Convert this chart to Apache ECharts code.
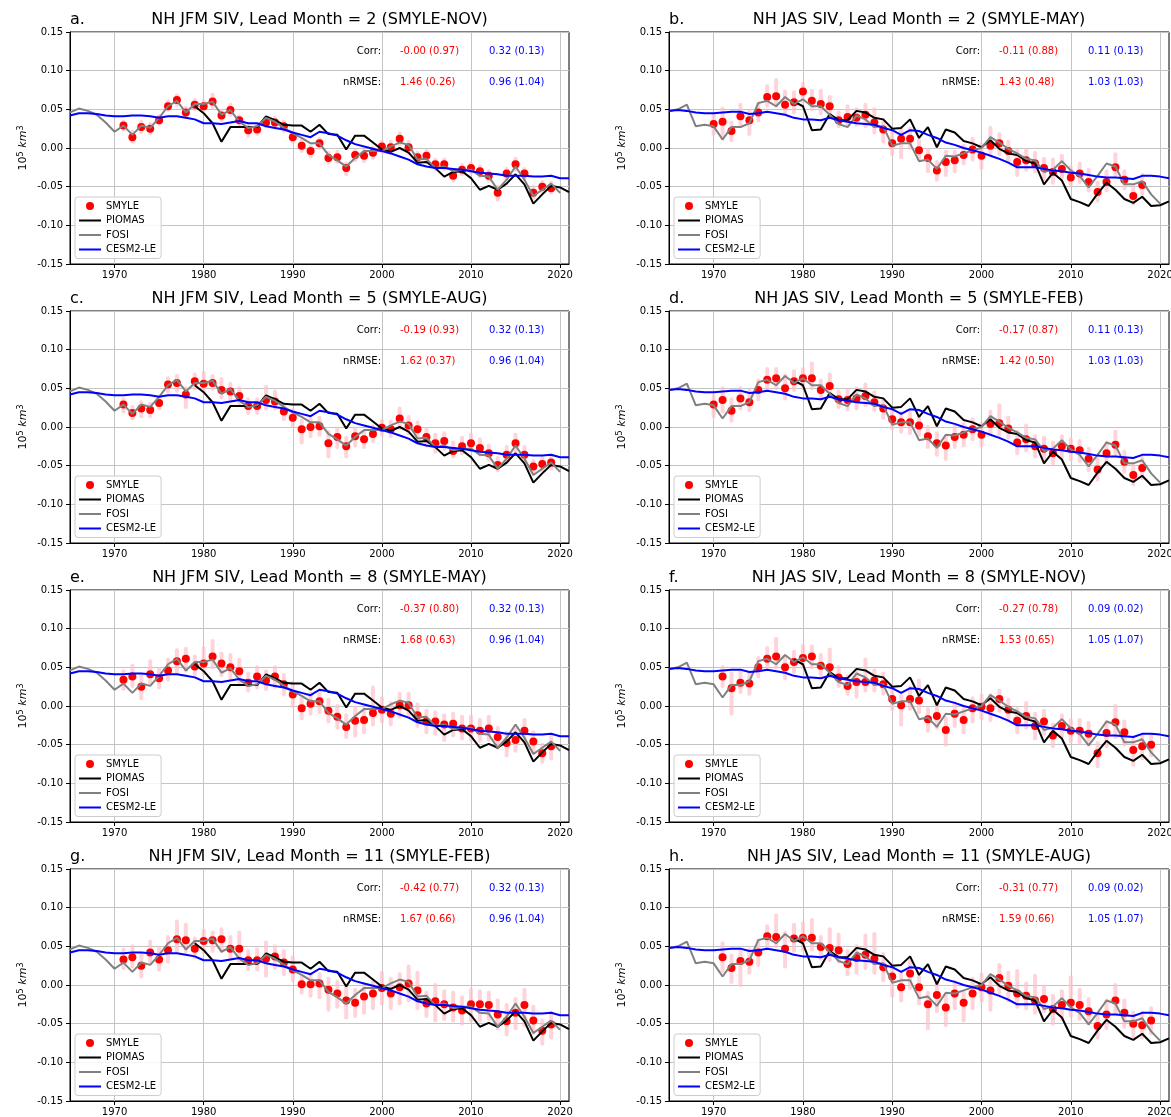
<!DOCTYPE html>
<html>
<head>
<meta charset="utf-8">
<script src="https://cdn.jsdelivr.net/npm/echarts@6/dist/echarts.min.js"></script>
<style>
  html, body { margin: 0; padding: 0; background: #ffffff; }
  #chart { width: 1171px; height: 1117px; }
</style>
</head>
<body>
<div id="chart"></div>
<script>
// ---------------- data ----------------
const xTickYears = [1970, 1980, 1990, 2000, 2010, 2020];
const yTickValues = [-0.15, -0.10, -0.05, 0.00, 0.05, 0.10, 0.15];

const yearsObs = [1965,1966,1967,1968,1969,1970,1971,1972,1973,1974,1975,1976,1977,1978,1979,1980,1981,1982,1983,1984,
  1985,1986,1987,1988,1989,1990,1991,1992,1993,1994,1995,1996,1997,1998,1999,2000,2001,2002,2003,2004,
  2005,2006,2007,2008,2009,2010,2011,2012,2013,2014,2015,2016,2017,2018,2019,2020,2021];
const yearsFosi = [1965,1966,1967,1968,1969,1970,1971,1972,1973,1974,1975,1976,1977,1978,1979,1980,1981,1982,1983,1984,
  1985,1986,1987,1988,1989,1990,1991,1992,1993,1994,1995,1996,1997,1998,1999,2000,2001,2002,2003,2004,
  2005,2006,2007,2008,2009,2010,2011,2012,2013,2014,2015,2016,2017,2018,2019,2020];
const yearsPiomas = [1979,1980,1981,1982,1983,1984,1985,1986,1987,1988,1989,1990,1991,1992,1993,1994,1995,1996,1997,1998,
  1999,2000,2001,2002,2003,2004,2005,2006,2007,2008,2009,2010,2011,2012,2013,2014,2015,2016,2017,2018,
  2019,2020,2021];
const years1970 = [1970,1971,1972,1973,1974,1975,1976,1977,1978,1979,1980,1981,1982,1983,1984,1985,1986,1987,1988,1989,
  1990,1991,1992,1993,1994,1995,1996,1997,1998,1999,2000,2001,2002,2003,2004,2005,2006,2007,2008,2009,
  2010,2011,2012,2013,2014,2015,2016,2017,2018];
const years1971 = [1971,1972,1973,1974,1975,1976,1977,1978,1979,1980,1981,1982,1983,1984,1985,1986,1987,1988,1989,1990,
  1991,1992,1993,1994,1995,1996,1997,1998,1999,2000,2001,2002,2003,2004,2005,2006,2007,2008,2009,2010,
  2011,2012,2013,2014,2015,2016,2017,2018,2019];

// JFM references
const jfmPiomas = [0.054,0.045,0.032,0.008,0.027,0.027,0.027,0.027,0.041,0.036,
  0.030,0.029,0.029,0.021,0.030,0.018,0.017,-0.002,0.016,0.016,
  0.007,-0.002,-0.005,0.000,-0.006,-0.019,-0.018,-0.026,-0.037,-0.031,
  -0.030,-0.039,-0.054,-0.049,-0.054,-0.046,-0.034,-0.047,-0.072,-0.060,
  -0.049,-0.051,-0.057];
const jfmFosi = [0.046,0.051,0.048,0.043,0.033,0.021,0.029,0.017,0.029,0.026,
  0.039,0.054,0.061,0.046,0.057,0.057,0.060,0.043,0.049,0.034,
  0.026,0.028,0.039,0.034,0.026,0.019,0.013,0.006,0.006,-0.009,
  -0.016,-0.024,-0.013,-0.004,-0.004,-0.004,0.002,0.007,0.004,-0.015,
  -0.014,-0.026,-0.024,-0.030,-0.028,-0.028,-0.036,-0.037,-0.054,-0.041,
  -0.024,-0.041,-0.062,-0.054,-0.046,-0.058];
const jfmCesm = [0.042,0.045,0.045,0.044,0.042,0.041,0.041,0.042,0.042,0.041,
  0.039,0.041,0.041,0.039,0.037,0.032,0.032,0.031,0.033,0.035,
  0.032,0.032,0.028,0.026,0.024,0.020,0.017,0.014,0.021,0.019,
  0.016,0.010,0.005,0.002,-0.001,-0.004,-0.007,-0.011,-0.015,-0.021,
  -0.024,-0.026,-0.026,-0.027,-0.028,-0.030,-0.032,-0.033,-0.034,-0.036,
  -0.036,-0.036,-0.037,-0.037,-0.036,-0.039,-0.039];

// JAS references
const jasPiomas = [0.060,0.054,0.023,0.024,0.044,0.036,0.036,0.048,0.046,0.039,
  0.037,0.025,0.026,0.037,0.013,0.027,0.001,0.024,0.020,0.009,
  0.006,0.001,0.010,-0.001,-0.007,-0.009,-0.017,-0.020,-0.047,-0.032,
  -0.042,-0.066,-0.070,-0.075,-0.059,-0.045,-0.054,-0.066,-0.071,-0.063,
  -0.075,-0.074,-0.069];
const jasFosi = [0.048,0.050,0.056,0.028,0.030,0.028,0.011,0.027,0.027,0.032,
  0.058,0.061,0.054,0.066,0.057,0.063,0.054,0.054,0.043,0.031,
  0.027,0.042,0.037,0.027,0.028,0.003,0.006,0.006,-0.017,-0.015,
  -0.027,-0.010,-0.011,-0.007,-0.003,0.000,0.014,0.007,-0.001,-0.007,
  -0.014,-0.016,-0.031,-0.028,-0.017,-0.029,-0.036,-0.051,-0.036,-0.020,
  -0.024,-0.047,-0.047,-0.043,-0.060,-0.072];
const jasCesm = [0.048,0.049,0.048,0.046,0.045,0.045,0.046,0.047,0.047,0.044,
  0.045,0.047,0.045,0.043,0.039,0.037,0.037,0.036,0.039,0.036,
  0.034,0.032,0.031,0.030,0.026,0.023,0.017,0.023,0.022,0.017,
  0.013,0.007,0.004,0.000,-0.003,-0.006,-0.010,-0.014,-0.019,-0.025,
  -0.025,-0.025,-0.027,-0.029,-0.030,-0.032,-0.033,-0.035,-0.037,-0.038,
  -0.038,-0.039,-0.040,-0.036,-0.036,-0.037,-0.039];

// SMYLE ensemble mean and member range, one set per panel
const smyleA = [0.029,0.014,0.027,0.025,0.036,0.054,0.062,0.046,0.056,0.054,
  0.060,0.042,0.049,0.036,0.023,0.024,0.033,0.033,0.028,0.014,
  0.003,-0.004,0.006,-0.013,-0.012,-0.026,-0.009,-0.010,-0.006,0.002,
  0.001,0.012,0.001,-0.012,-0.010,-0.021,-0.021,-0.036,-0.028,-0.026,
  -0.030,-0.036,-0.058,-0.033,-0.021,-0.033,-0.058,-0.050,-0.052];
const memLoA = [0.024,0.008,0.021,0.019,0.031,0.049,0.056,0.040,0.050,0.049,
  0.053,0.036,0.043,0.031,0.016,0.018,0.028,0.027,0.022,0.008,
  -0.004,-0.011,0.000,-0.019,-0.018,-0.034,-0.016,-0.017,-0.013,-0.005,
  -0.005,0.005,-0.006,-0.018,-0.016,-0.027,-0.027,-0.042,-0.034,-0.032,
  -0.037,-0.042,-0.067,-0.040,-0.028,-0.040,-0.064,-0.056,-0.058];
const memHiA = [0.034,0.021,0.034,0.031,0.041,0.060,0.068,0.052,0.062,0.060,
  0.069,0.048,0.056,0.041,0.029,0.030,0.039,0.039,0.034,0.020,
  0.010,0.002,0.012,-0.006,-0.005,-0.020,-0.003,-0.003,0.000,0.008,
  0.008,0.019,0.008,-0.006,-0.004,-0.015,-0.015,-0.030,-0.022,-0.020,
  -0.024,-0.030,-0.050,-0.027,-0.014,-0.027,-0.050,-0.044,-0.045];

const smyleB = [0.031,0.034,0.022,0.041,0.036,0.046,0.066,0.067,0.056,0.059,
  0.073,0.061,0.057,0.054,0.036,0.040,0.039,0.043,0.033,0.024,
  0.006,0.012,0.012,-0.003,-0.013,-0.029,-0.018,-0.016,-0.009,-0.002,
  -0.010,0.003,0.006,-0.004,-0.018,-0.016,-0.020,-0.026,-0.031,-0.027,
  -0.038,-0.033,-0.044,-0.057,-0.044,-0.025,-0.041,-0.062,-0.048];
const memLoB = [0.018,0.012,0.010,0.028,0.018,0.036,0.055,0.055,0.045,0.046,
  0.060,0.050,0.045,0.042,0.028,0.030,0.030,0.028,0.020,0.008,
  -0.008,-0.012,0.000,-0.015,-0.030,-0.041,-0.035,-0.030,-0.020,-0.015,
  -0.026,-0.008,-0.008,-0.016,-0.035,-0.028,-0.030,-0.040,-0.045,-0.038,
  -0.048,-0.044,-0.055,-0.068,-0.055,-0.035,-0.052,-0.072,-0.060];
const memHiB = [0.043,0.051,0.033,0.056,0.048,0.058,0.080,0.088,0.073,0.072,
  0.083,0.074,0.074,0.066,0.046,0.054,0.050,0.056,0.050,0.036,
  0.020,0.026,0.025,0.010,-0.002,-0.018,-0.005,-0.005,0.003,0.012,
  0.005,0.026,0.018,0.008,-0.004,-0.002,-0.006,-0.014,-0.015,-0.010,
  -0.025,-0.020,-0.028,-0.045,-0.030,-0.008,-0.030,-0.050,-0.035];

const smyleC = [0.029,0.018,0.024,0.022,0.031,0.055,0.057,0.042,0.059,0.056,
  0.057,0.048,0.046,0.040,0.027,0.027,0.035,0.033,0.020,0.012,
  -0.003,0.000,0.001,-0.021,-0.013,-0.025,-0.012,-0.016,-0.009,-0.001,
  -0.003,0.011,0.002,-0.003,-0.013,-0.021,-0.018,-0.031,-0.025,-0.021,
  -0.027,-0.034,-0.049,-0.036,-0.021,-0.036,-0.051,-0.048,-0.046];
const memLoC = [0.020,0.011,0.014,0.014,0.024,0.046,0.047,0.026,0.050,0.047,
  0.049,0.038,0.036,0.030,0.018,0.018,0.024,0.024,0.010,0.002,
  -0.020,-0.012,-0.010,-0.038,-0.026,-0.038,-0.024,-0.026,-0.018,-0.010,
  -0.012,-0.001,-0.008,-0.014,-0.024,-0.032,-0.028,-0.038,-0.034,-0.030,
  -0.036,-0.042,-0.056,-0.046,-0.032,-0.044,-0.058,-0.056,-0.054];
const memHiC = [0.036,0.026,0.032,0.030,0.038,0.063,0.066,0.050,0.068,0.070,
  0.066,0.062,0.056,0.050,0.036,0.036,0.052,0.046,0.028,0.022,
  0.008,0.010,0.012,-0.006,-0.002,-0.014,-0.002,-0.006,0.001,0.008,
  0.007,0.024,0.013,0.006,-0.003,-0.010,-0.008,-0.020,-0.014,-0.010,
  -0.016,-0.024,-0.040,-0.026,-0.010,-0.026,-0.044,-0.040,-0.038];

const smyleD = [0.029,0.035,0.021,0.037,0.032,0.048,0.061,0.063,0.050,0.059,
  0.063,0.063,0.048,0.053,0.036,0.035,0.037,0.040,0.032,0.024,
  0.010,0.006,0.006,0.002,-0.012,-0.021,-0.024,-0.013,-0.010,-0.003,
  -0.010,0.004,0.005,-0.002,-0.020,-0.016,-0.025,-0.028,-0.034,-0.025,
  -0.028,-0.030,-0.041,-0.055,-0.034,-0.023,-0.045,-0.062,-0.053];
const memLoD = [0.014,0.020,0.008,0.024,0.022,0.036,0.048,0.050,0.037,0.048,
  0.050,0.050,0.036,0.040,0.026,0.023,0.024,0.028,0.022,0.012,
  -0.002,-0.006,-0.008,-0.010,-0.026,-0.036,-0.041,-0.026,-0.024,-0.016,
  -0.024,-0.008,-0.010,-0.014,-0.034,-0.030,-0.038,-0.042,-0.048,-0.040,
  -0.042,-0.044,-0.056,-0.068,-0.048,-0.036,-0.058,-0.074,-0.066];
const memHiD = [0.040,0.050,0.036,0.050,0.047,0.060,0.075,0.075,0.067,0.072,
  0.075,0.082,0.060,0.068,0.046,0.048,0.050,0.055,0.045,0.036,
  0.022,0.018,0.018,0.014,0.000,-0.008,-0.012,0.000,0.004,0.010,
  0.004,0.020,0.028,0.012,-0.006,0.002,-0.012,-0.014,-0.020,-0.012,
  -0.016,-0.018,-0.028,-0.042,-0.020,-0.006,-0.032,-0.050,-0.040];

const smyleE = [0.034,0.038,0.025,0.041,0.036,0.046,0.058,0.061,0.051,0.055,
  0.064,0.055,0.050,0.045,0.030,0.038,0.033,0.038,0.028,0.015,
  -0.003,0.003,0.006,-0.006,-0.014,-0.027,-0.019,-0.018,-0.009,-0.005,
  -0.010,0.001,0.001,-0.012,-0.020,-0.020,-0.024,-0.023,-0.029,-0.029,
  -0.032,-0.029,-0.040,-0.048,-0.044,-0.032,-0.046,-0.061,-0.052];
const memLoE = [0.022,0.026,0.010,0.030,0.024,0.034,0.044,0.046,0.040,0.042,
  0.050,0.040,0.036,0.030,0.020,0.024,0.022,0.025,0.015,0.000,
  -0.016,-0.010,-0.008,-0.020,-0.028,-0.040,-0.038,-0.034,-0.024,-0.020,
  -0.024,-0.014,-0.012,-0.026,-0.034,-0.036,-0.044,-0.038,-0.042,-0.044,
  -0.045,-0.044,-0.054,-0.064,-0.058,-0.048,-0.058,-0.072,-0.068];
const memHiE = [0.045,0.052,0.040,0.058,0.048,0.060,0.072,0.074,0.064,0.075,
  0.084,0.068,0.066,0.060,0.042,0.050,0.045,0.050,0.040,0.030,
  0.010,0.016,0.020,0.008,0.000,-0.012,-0.002,-0.004,0.024,0.010,
  0.004,0.016,0.016,0.002,-0.006,-0.008,-0.012,-0.010,-0.014,-0.014,
  -0.018,-0.014,-0.028,-0.035,-0.030,-0.018,-0.034,-0.050,-0.040];

const smyleF = [0.038,0.023,0.030,0.029,0.050,0.061,0.064,0.050,0.057,0.062,
  0.064,0.052,0.050,0.037,0.026,0.031,0.031,0.033,0.028,0.009,
  0.001,0.009,0.007,-0.017,-0.013,-0.031,-0.010,-0.018,-0.003,-0.001,
  -0.003,0.009,-0.005,-0.019,-0.013,-0.026,-0.020,-0.038,-0.026,-0.032,
  -0.032,-0.036,-0.061,-0.035,-0.021,-0.034,-0.057,-0.052,-0.050];
const memLoF = [0.026,-0.010,0.018,0.016,0.038,0.050,0.050,0.036,0.044,0.050,
  0.050,0.040,0.038,0.026,0.016,0.012,0.020,0.020,0.016,-0.004,
  -0.024,-0.004,-0.008,-0.032,-0.028,-0.050,-0.026,-0.034,-0.020,-0.016,
  -0.018,-0.006,-0.016,-0.034,-0.028,-0.042,-0.036,-0.052,-0.040,-0.046,
  -0.048,-0.050,-0.078,-0.052,-0.040,-0.050,-0.076,-0.068,-0.064];
const memHiF = [0.050,0.042,0.045,0.042,0.062,0.075,0.087,0.064,0.070,0.078,
  0.077,0.066,0.073,0.050,0.038,0.046,0.060,0.046,0.042,0.024,
  0.014,0.024,0.033,-0.004,0.004,-0.016,0.004,-0.004,0.010,0.014,
  0.014,0.020,0.008,-0.004,0.004,-0.010,-0.006,-0.024,-0.012,-0.018,
  -0.018,-0.022,-0.048,-0.020,0.000,-0.020,-0.044,-0.038,-0.038];

const smyleG = [0.033,0.036,0.025,0.042,0.033,0.045,0.059,0.058,0.047,0.057,
  0.058,0.059,0.047,0.047,0.032,0.032,0.034,0.037,0.029,0.020,
  0.001,0.001,0.002,-0.006,-0.011,-0.020,-0.023,-0.015,-0.011,-0.004,
  -0.011,-0.003,0.002,-0.007,-0.024,-0.021,-0.025,-0.029,-0.033,-0.025,
  -0.025,-0.026,-0.038,-0.047,-0.036,-0.026,-0.046,-0.059,-0.051];
const memLoG = [0.022,0.024,0.011,0.030,0.020,0.030,0.044,0.044,0.036,0.042,
  0.044,0.044,0.034,0.030,0.020,0.020,0.012,0.022,0.014,0.006,
  -0.010,-0.014,-0.016,-0.032,-0.028,-0.042,-0.040,-0.036,-0.030,-0.024,
  -0.030,-0.024,-0.020,-0.030,-0.040,-0.046,-0.044,-0.046,-0.050,-0.046,
  -0.046,-0.044,-0.056,-0.064,-0.056,-0.052,-0.062,-0.076,-0.068];
const memHiG = [0.046,0.050,0.040,0.056,0.048,0.062,0.082,0.078,0.060,0.070,
  0.068,0.072,0.062,0.068,0.044,0.046,0.055,0.050,0.044,0.036,
  0.012,0.014,0.014,0.008,0.004,-0.002,-0.006,0.000,0.004,0.016,
  0.008,0.014,0.024,0.016,-0.010,0.000,-0.008,-0.010,-0.016,-0.006,
  -0.008,-0.010,-0.020,-0.026,-0.018,-0.006,-0.028,-0.046,-0.036];

const smyleH = [0.036,0.022,0.031,0.030,0.042,0.063,0.062,0.047,0.060,0.061,
  0.061,0.049,0.048,0.045,0.027,0.035,0.039,0.034,0.023,0.011,
  -0.003,0.015,-0.003,-0.025,-0.013,-0.029,-0.011,-0.023,-0.011,-0.003,
  -0.007,0.009,-0.001,-0.011,-0.014,-0.020,-0.018,-0.031,-0.026,-0.023,
  -0.026,-0.034,-0.053,-0.038,-0.020,-0.036,-0.050,-0.052,-0.046];
const memLoH = [0.018,0.004,0.000,0.016,0.026,0.048,0.050,0.024,0.044,0.046,
  0.046,0.034,0.032,0.030,0.014,0.016,0.022,0.016,0.006,-0.014,
  -0.020,-0.004,-0.024,-0.056,-0.034,-0.052,-0.030,-0.046,-0.030,-0.020,
  -0.032,-0.010,-0.020,-0.028,-0.030,-0.036,-0.034,-0.050,-0.044,-0.040,
  -0.044,-0.050,-0.068,-0.056,-0.036,-0.054,-0.066,-0.068,-0.062];
const memHiH = [0.054,0.038,0.044,0.046,0.058,0.076,0.090,0.068,0.078,0.080,
  0.084,0.062,0.072,0.065,0.044,0.050,0.064,0.066,0.040,0.026,
  0.014,0.032,0.010,-0.010,0.004,-0.012,0.004,-0.010,0.008,0.014,
  0.008,0.026,0.016,0.018,0.002,0.012,-0.002,-0.014,-0.008,0.010,
  -0.006,-0.018,-0.038,-0.020,0.000,-0.020,-0.036,-0.036,-0.030];

// skill scores printed in each panel: [SMYLE, CESM2-LE]
const corrText = [
  ['-0.00 (0.97)', '0.32 (0.13)'], ['-0.11 (0.88)', '0.11 (0.13)'],
  ['-0.19 (0.93)', '0.32 (0.13)'], ['-0.17 (0.87)', '0.11 (0.13)'],
  ['-0.37 (0.80)', '0.32 (0.13)'], ['-0.27 (0.78)', '0.09 (0.02)'],
  ['-0.42 (0.77)', '0.32 (0.13)'], ['-0.31 (0.77)', '0.09 (0.02)']];
const nrmseText = [
  ['1.46 (0.26)', '0.96 (1.04)'], ['1.43 (0.48)', '1.03 (1.03)'],
  ['1.62 (0.37)', '0.96 (1.04)'], ['1.42 (0.50)', '1.03 (1.03)'],
  ['1.68 (0.63)', '0.96 (1.04)'], ['1.53 (0.65)', '1.05 (1.07)'],
  ['1.67 (0.66)', '0.96 (1.04)'], ['1.59 (0.66)', '1.05 (1.07)']];

const panelLetters = ['a.', 'b.', 'c.', 'd.', 'e.', 'f.', 'g.', 'h.'];
const panelTitles = [
  'NH JFM SIV, Lead Month = 2 (SMYLE-NOV)', 'NH JAS SIV, Lead Month = 2 (SMYLE-MAY)',
  'NH JFM SIV, Lead Month = 5 (SMYLE-AUG)', 'NH JAS SIV, Lead Month = 5 (SMYLE-FEB)',
  'NH JFM SIV, Lead Month = 8 (SMYLE-MAY)', 'NH JAS SIV, Lead Month = 8 (SMYLE-NOV)',
  'NH JFM SIV, Lead Month = 11 (SMYLE-FEB)', 'NH JAS SIV, Lead Month = 11 (SMYLE-AUG)'];

const panelData = [
  { season: 'JFM', years: years1971, mean: smyleA, lo: memLoA, hi: memHiA },
  { season: 'JAS', years: years1970, mean: smyleB, lo: memLoB, hi: memHiB },
  { season: 'JFM', years: years1971, mean: smyleC, lo: memLoC, hi: memHiC },
  { season: 'JAS', years: years1970, mean: smyleD, lo: memLoD, hi: memHiD },
  { season: 'JFM', years: years1971, mean: smyleE, lo: memLoE, hi: memHiE },
  { season: 'JAS', years: years1971, mean: smyleF, lo: memLoF, hi: memHiF },
  { season: 'JFM', years: years1971, mean: smyleG, lo: memLoG, hi: memHiG },
  { season: 'JAS', years: years1971, mean: smyleH, lo: memLoH, hi: memHiH }];

const references = {
  JFM: { piomas: jfmPiomas, fosi: jfmFosi, cesm: jfmCesm },
  JAS: { piomas: jasPiomas, fosi: jasFosi, cesm: jasCesm }
};

// ---------------- layout ----------------
const FONT = 'DejaVu Sans';
const colLeft = [70, 669];
const colWidth = [499, 500];
const rowTop = [32, 311, 590, 869];
const plotHeight = 232;
const gridColor = '#c4c4c4';
const LINE_ICON = 'path://M0,0 L22,0 L22,2 L0,2 Z';

const pairs = (xs, ys) => xs.map((x, k) => [x, ys[k]]);

const grids = [], xAxes = [], yAxes = [], series = [], legends = [], graphics = [];

panelData.forEach((p, i) => {
  const gl = colLeft[i % 2];
  const gw = colWidth[i % 2];
  const gt = rowTop[Math.floor(i / 2)];
  const ref = references[p.season];

  grids.push({
    left: gl, top: gt, width: gw, height: plotHeight,
    containLabel: false, outerBoundsMode: 'none',
    show: true, borderColor: '#000', borderWidth: 1, backgroundColor: 'transparent'
  });

  xAxes.push({
    gridIndex: i, type: 'value', min: 1965, max: 2021,
    axisLine: { show: true, onZero: false, lineStyle: { color: '#000', width: 1 } },
    axisTick: { show: true, length: 4, customValues: xTickYears, lineStyle: { color: '#000' } },
    axisLabel: { show: true, customValues: xTickYears, fontSize: 10, color: '#000',
      fontFamily: FONT, margin: 6, formatter: v => String(Math.round(v)) },
    splitLine: { show: true, lineStyle: { color: gridColor, width: 1 } }
  });

  yAxes.push({
    gridIndex: i, type: 'value', min: yTickValues[0], max: yTickValues[yTickValues.length - 1], interval: 0.05,
    axisLine: { show: true, onZero: false, lineStyle: { color: '#000', width: 1 } },
    axisTick: { show: true, length: 4, lineStyle: { color: '#000' } },
    axisLabel: { fontSize: 10, color: '#000', fontFamily: FONT, margin: 7,
      formatter: v => { const r = Math.round(v * 100) / 100; return (Math.abs(r) < 1e-9 ? 0 : r).toFixed(2); } },
    splitLine: { show: true, lineStyle: { color: gridColor, width: 1 } },
    name: '{n|10}{sup|5} {it|km}{sup|3}',
    nameLocation: 'middle', nameGap: 41, nameRotate: 90,
    nameTextStyle: {
      color: '#000',
      rich: {
        n: { fontSize: 11, fontFamily: FONT, color: '#000' },
        it: { fontSize: 11, fontFamily: FONT, fontStyle: 'italic', color: '#000' },
        sup: { fontSize: 8, fontFamily: FONT, color: '#000', verticalAlign: 'top' }
      }
    }
  });

  // ensemble member spread
  series.push({
    type: 'custom', name: 'members', xAxisIndex: i, yAxisIndex: i, z: 1, silent: true,
    encode: { x: 0, y: [1, 2] },
    data: p.years.map((y, k) => [y, p.lo[k], p.hi[k]]),
    renderItem: (params, api) => {
      const a = api.coord([api.value(0), api.value(1)]);
      const b = api.coord([api.value(0), api.value(2)]);
      return {
        type: 'line',
        shape: { x1: a[0], y1: a[1], x2: b[0], y2: b[1] },
        style: { stroke: '#ffc0cb', lineWidth: 4, lineCap: 'round', opacity: 0.7 }
      };
    }
  });
  series.push({
    type: 'scatter', name: 'SMYLE', xAxisIndex: i, yAxisIndex: i, z: 2,
    symbol: 'circle', symbolSize: 8, itemStyle: { color: '#ff0000', opacity: 1 },
    data: pairs(p.years, p.mean)
  });
  const lineSeries = (name, xs, ys, color, z) => ({
    type: 'line', name, xAxisIndex: i, yAxisIndex: i, z,
    symbol: 'none', showSymbol: false, smooth: false,
    lineStyle: { color, width: 2 }, itemStyle: { color },
    data: pairs(xs, ys)
  });
  series.push(lineSeries('PIOMAS', yearsPiomas, ref.piomas, '#000000', 3));
  series.push(lineSeries('FOSI', yearsFosi, ref.fosi, '#808080', 4));
  series.push(lineSeries('CESM2-LE', yearsObs, ref.cesm, '#0000ff', 5));

  legends.push({
    data: [
      { name: 'SMYLE', icon: 'circle' },
      { name: 'PIOMAS', icon: LINE_ICON },
      { name: 'FOSI', icon: LINE_ICON },
      { name: 'CESM2-LE', icon: LINE_ICON }
    ],
    orient: 'vertical', left: gl + 5, top: gt + 165,
    padding: [3, 5, 3, 4], itemGap: 2.5, itemWidth: 22, itemHeight: 8,
    backgroundColor: 'rgba(255,255,255,0.85)', borderColor: '#cccccc', borderWidth: 1, borderRadius: 3,
    textStyle: { fontSize: 10, fontFamily: FONT, color: '#000', lineHeight: 12 },
    selectedMode: false
  });

  // titles
  graphics.push({
    type: 'text', x: gl + gw / 2, y: gt - 12, silent: true,
    style: { text: panelTitles[i], fontSize: 16, fontFamily: FONT, fill: '#000',
      align: 'center', verticalAlign: 'middle', textAlign: 'center', textVerticalAlign: 'middle' }
  });
  graphics.push({
    type: 'text', x: gl, y: gt - 12, silent: true,
    style: { text: panelLetters[i], fontSize: 16, fontFamily: FONT, fill: '#000',
      align: 'left', verticalAlign: 'middle', textAlign: 'left', textVerticalAlign: 'middle' }
  });
  // skill scores
  const statRows = [['Corr:', corrText[i], gt + 19], ['nRMSE:', nrmseText[i], gt + 50]];
  statRows.forEach(([label, vals, y]) => {
    graphics.push({ type: 'text', x: gl + 311, y, silent: true, z: 10,
      style: { text: label, fontSize: 10, fontFamily: FONT, fill: '#000',
        align: 'right', verticalAlign: 'middle', textAlign: 'right', textVerticalAlign: 'middle' } });
    graphics.push({ type: 'text', x: gl + 330, y, silent: true, z: 10,
      style: { text: vals[0], fontSize: 10, fontFamily: FONT, fill: '#ff0000',
        align: 'left', verticalAlign: 'middle', textAlign: 'left', textVerticalAlign: 'middle' } });
    graphics.push({ type: 'text', x: gl + 419, y, silent: true, z: 10,
      style: { text: vals[1], fontSize: 10, fontFamily: FONT, fill: '#0000ff',
        align: 'left', verticalAlign: 'middle', textAlign: 'left', textVerticalAlign: 'middle' } });
  });
});

const chart = echarts.init(document.getElementById('chart'), null, { renderer: 'canvas' });
chart.setOption({
  animation: false,
  backgroundColor: '#ffffff',
  textStyle: { fontFamily: FONT },
  grid: grids,
  xAxis: xAxes,
  yAxis: yAxes,
  legend: legends,
  series,
  graphic: graphics
});
</script>
</body>
</html>
